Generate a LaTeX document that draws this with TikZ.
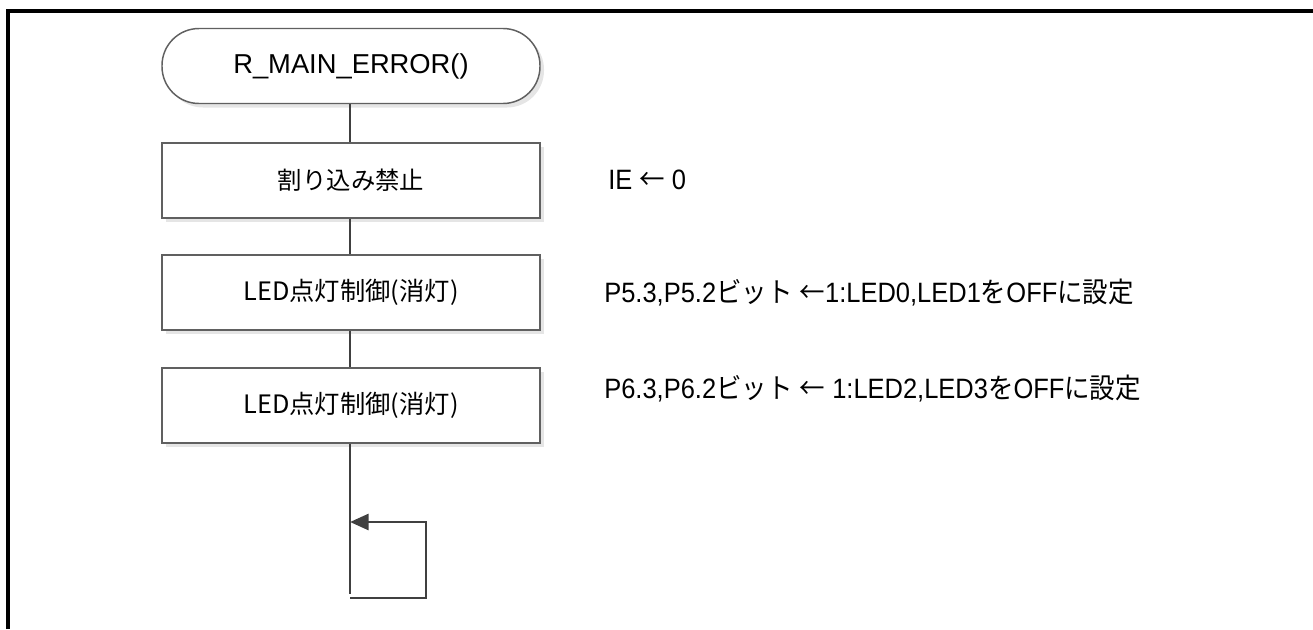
\documentclass[tikz,border=0pt]{standalone}
\usepackage{fontspec}
\setmainfont{Liberation Sans}
\newfontfamily\jp{Noto Sans CJK JP}
\newfontfamily\nlat[FakeStretch=0.91]{Liberation Sans}
\newfontfamily\njp[FakeStretch=0.91]{Noto Sans CJK JP}
\usetikzlibrary{shadows,arrows.meta}
\definecolor{lc}{HTML}{404040}
\definecolor{bc}{HTML}{606060}
\tikzset{
  x=0.75pt, y=-0.75pt,
  shd/.style={drop shadow={shadow xshift=4*0.75pt, shadow yshift=-4*0.75pt, fill=black!10, opacity=1}},
  term/.style={draw=bc, line width=1.1pt, fill=white, rounded corners=37*0.75pt, minimum width=378*0.75pt, minimum height=75*0.75pt, inner sep=0pt, font=\fontsize{20.5}{24}\selectfont, shd},
  proc/.style={draw=bc, line width=1.5pt, fill=white, minimum width=378*0.75pt, minimum height=75*0.75pt, inner sep=0pt, font=\jp\fontsize{19}{22}\selectfont, shd},
  note/.style={anchor=west, inner sep=0pt, font=\nlat\fontsize{21}{24}\selectfont},
  conn/.style={draw=lc, line width=2.2pt},
}
\begin{document}
\begin{tikzpicture}
\useasboundingbox (0,0) rectangle (1313,629);
\draw[black, line width=2.3pt] (8,629) -- (8,11) -- (1313,11);
\node[term] (t) at (351,66) {R\_MAIN\_ERROR()};
\node[proc, font=\jp\fontsize{18.3}{22}\selectfont] (b1) at (351,180) {割り込み禁止};
\node[proc] (b2) at (351,292) {LED点灯制御(消灯)};
\node[proc] (b3) at (351,405) {LED点灯制御(消灯)};
\coordinate (e) at (350,594);
\coordinate (l1) at (350,598);
\coordinate (l2) at (426,598);
\coordinate (l3) at (426,522);
\coordinate (l4) at (350,522);
\draw[conn] ([xshift=-0.75pt]t.south) -- ([xshift=-0.75pt]b1.north);
\draw[conn] ([xshift=-0.75pt]b1.south) -- ([xshift=-0.75pt]b2.north);
\draw[conn] ([xshift=-0.75pt]b2.south) -- ([xshift=-0.75pt]b3.north);
\draw[conn] ([xshift=-0.75pt]b3.south) -- (e);
\draw[conn, -{Triangle[length=14pt, width=12pt]}] (l1) -- (l2) -- (l3) -- (l4);
\node[note] (n1) at (608,180) {IE {\njp ←} 0};
\node[note] (n2) at (604,293) {P5.3,P5.2{\njp ビット} {\njp ←}1:LED0,LED1{\njp を}OFF{\njp に設定}};
\node[note] (n3) at (604,389) {P6.3,P6.2{\njp ビット} {\njp ←} 1:LED2,LED3{\njp を}OFF{\njp に設定}};
\end{tikzpicture}
\end{document}
